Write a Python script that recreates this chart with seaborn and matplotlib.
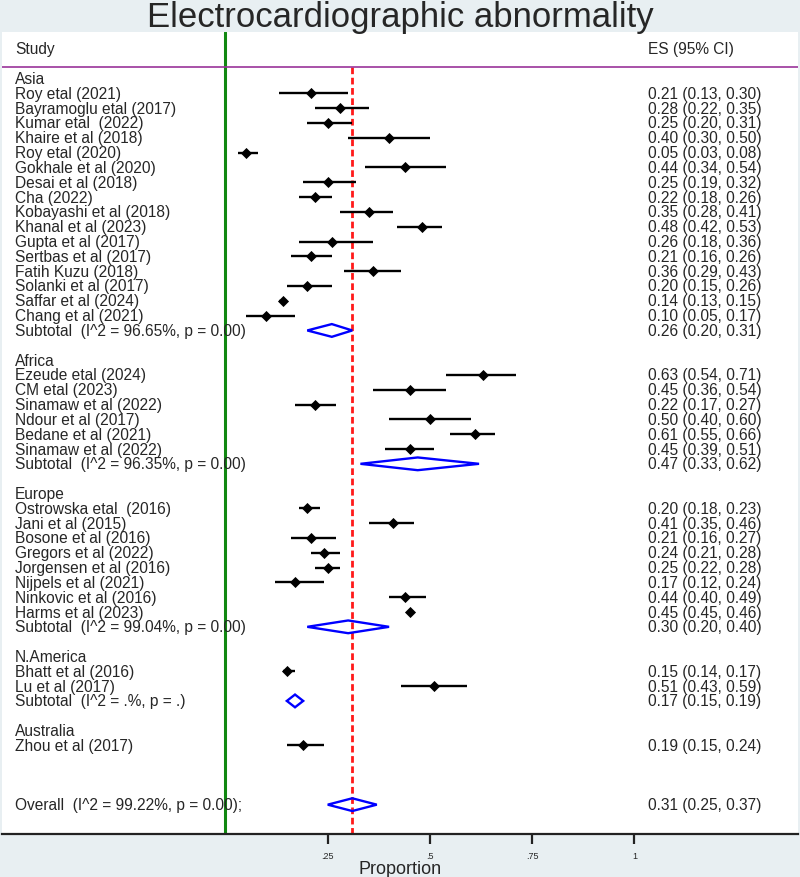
import matplotlib
matplotlib.use("Agg")
import numpy as np
import pandas as pd
import matplotlib.pyplot as plt
import seaborn as sns
from matplotlib.patches import Polygon

# Daten: Studien je Region (ES, untere und obere Grenze des 95%-KI)
asia_studies = ["Roy etal (2021)", "Bayramoglu etal (2017)", "Kumar etal  (2022)",
                "Khaire et al (2018)", "Roy etal (2020)", "Gokhale et al (2020)",
                "Desai et al (2018)", "Cha (2022)", "Kobayashi et al (2018)",
                "Khanal et al (2023)", "Gupta et al (2017)", "Sertbas et al (2017)",
                "Fatih Kuzu (2018)", "Solanki et al (2017)", "Saffar et al (2024)",
                "Chang et al (2021)"]
asia_es = [0.21, 0.28, 0.25, 0.40, 0.05, 0.44, 0.25, 0.22, 0.35, 0.48, 0.26, 0.21, 0.36, 0.20, 0.14, 0.10]
asia_lo = [0.13, 0.22, 0.20, 0.30, 0.03, 0.34, 0.19, 0.18, 0.28, 0.42, 0.18, 0.16, 0.29, 0.15, 0.13, 0.05]
asia_hi = [0.30, 0.35, 0.31, 0.50, 0.08, 0.54, 0.32, 0.26, 0.41, 0.53, 0.36, 0.26, 0.43, 0.26, 0.15, 0.17]
asia_sub = ["Subtotal  (I^2 = 96.65%, p = 0.00)", 0.26, 0.20, 0.31]

africa_studies = ["Ezeude etal (2024)", "CM etal (2023)", "Sinamaw et al (2022)",
                  "Ndour et al (2017)", "Bedane et al (2021)", "Sinamaw et al (2022)"]
africa_es = [0.63, 0.45, 0.22, 0.50, 0.61, 0.45]
africa_lo = [0.54, 0.36, 0.17, 0.40, 0.55, 0.39]
africa_hi = [0.71, 0.54, 0.27, 0.60, 0.66, 0.51]
africa_sub = ["Subtotal  (I^2 = 96.35%, p = 0.00)", 0.47, 0.33, 0.62]

europe_studies = ["Ostrowska etal  (2016)", "Jani et al (2015)", "Bosone et al (2016)",
                  "Gregors et al (2022)", "Jorgensen et al (2016)", "Nijpels et al (2021)",
                  "Ninkovic et al (2016)", "Harms et al (2023)"]
europe_es = [0.20, 0.41, 0.21, 0.24, 0.25, 0.17, 0.44, 0.45]
europe_lo = [0.18, 0.35, 0.16, 0.21, 0.22, 0.12, 0.40, 0.45]
europe_hi = [0.23, 0.46, 0.27, 0.28, 0.28, 0.24, 0.49, 0.46]
europe_sub = ["Subtotal  (I^2 = 99.04%, p = 0.00)", 0.30, 0.20, 0.40]

namerica_studies = ["Bhatt et al (2016)", "Lu et al (2017)"]
namerica_es = [0.15, 0.51]
namerica_lo = [0.14, 0.43]
namerica_hi = [0.17, 0.59]
namerica_sub = ["Subtotal  (I^2 = .%, p = .)", 0.17, 0.15, 0.19]

australia_studies = ["Zhou et al (2017)"]
australia_es = [0.19]
australia_lo = [0.15]
australia_hi = [0.24]

overall = ["Overall  (I^2 = 99.22%, p = 0.00);", 0.31, 0.25, 0.37]

groups = [
    ("Asia", asia_studies, asia_es, asia_lo, asia_hi, asia_sub),
    ("Africa", africa_studies, africa_es, africa_lo, africa_hi, africa_sub),
    ("Europe", europe_studies, europe_es, europe_lo, europe_hi, europe_sub),
    ("N.America", namerica_studies, namerica_es, namerica_lo, namerica_hi, namerica_sub),
    ("Australia", australia_studies, australia_es, australia_lo, australia_hi, None),
]

# Zeilen aufbauen
rows = []
r = 0
for region, names, es, lo, hi, sub in groups:
    rows.append(dict(row=r, label=region, kind="header", es=np.nan, lo=np.nan, hi=np.nan))
    r += 1
    for n, e, l, h in zip(names, es, lo, hi):
        rows.append(dict(row=r, label=n, kind="study", es=e, lo=l, hi=h))
        r += 1
    if sub is not None:
        rows.append(dict(row=r, label=sub[0], kind="subtotal", es=sub[1], lo=sub[2], hi=sub[3]))
        r += 1
    r += 1
r += 2
rows.append(dict(row=r, label=overall[0], kind="subtotal", es=overall[1], lo=overall[2], hi=overall[3]))
df = pd.DataFrame(rows)

sns.set_style("white")
plt.rcParams["font.family"] = ["Liberation Sans", "DejaVu Sans"]

bg = "#e8eff2"
fig = plt.figure(figsize=(8, 8.78), dpi=100, facecolor=bg)
ax = fig.add_axes([2 / 800, 43 / 878, 796 / 800, 802 / 878])
ax.set_facecolor("white")

x_left = (2 - 225.5) / 408.9
x_right = (798 - 225.5) / 408.9
ax.set_xlim(x_left, x_right)
ax.set_ylim(50.98, -3.14)

# Nulllinie und Gesamteffekt
ax.axvline(0, color="#118811", lw=2.2, zorder=1)
ax.vlines(overall[1], -0.8, 50.98, color="#ff1a1a", lw=2, linestyles=(0, (2.4, 1.3)), zorder=1)
ax.axhline(-0.8, color="#993399", lw=1.2, zorder=2)

studies = df[df.kind == "study"]
ax.hlines(studies.row, studies.lo, studies.hi, color="black", lw=1.7, zorder=3)
sns.scatterplot(data=studies, x="es", y="row", marker="D", s=32, color="black",
                linewidth=0, ax=ax, legend=False, zorder=4)

h = 0.43
for _, s in df[df.kind == "subtotal"].iterrows():
    pts = [[s.lo, s.row], [s.es, s.row - h], [s.hi, s.row], [s.es, s.row + h]]
    ax.add_patch(Polygon(pts, closed=True, fill=False, edgecolor="#0000ff", lw=1.7, zorder=4))

# Beschriftungen
x_lab = (15 - 225.5) / 408.9
x_es = (648 - 225.5) / 408.9
fs = 11.2
ax.text(x_lab, -2, "Study", fontsize=fs, va="center", ha="left")
ax.text(x_es, -2, "ES (95% CI)", fontsize=fs, va="center", ha="left")
for _, s in df.iterrows():
    ax.text(x_lab, s.row, s.label, fontsize=fs, va="center", ha="left", zorder=5)
    if s.kind != "header":
        ax.text(x_es, s.row, f"{s.es:.2f} ({s.lo:.2f}, {s.hi:.2f})", fontsize=fs,
                va="center", ha="left")

ax.set_yticks([])
ax.set_ylabel("")
ax.set_xticks([0.25, 0.5, 0.75, 1])
ax.set_xticklabels([".25", ".5", ".75", "1"])
ax.tick_params(axis="x", bottom=True, length=7, width=1.6, direction="out",
               labelsize=6.5, pad=5, color="#222222")
sns.despine(ax=ax, left=True, right=True, top=True)
ax.spines["bottom"].set_color("#222222")
ax.spines["bottom"].set_linewidth(1.6)

ax.set_xlabel("Proportion", fontsize=13)
ax.xaxis.label.set_va("baseline")
ax.xaxis.set_label_coords(0.5, -(874 - 835) / 802)

fig.text(0.5, 1 - 27 / 878, "Electrocardiographic abnormality", fontsize=25,
         ha="center", va="baseline")

plt.savefig("out.png", dpi=100, facecolor=bg)
